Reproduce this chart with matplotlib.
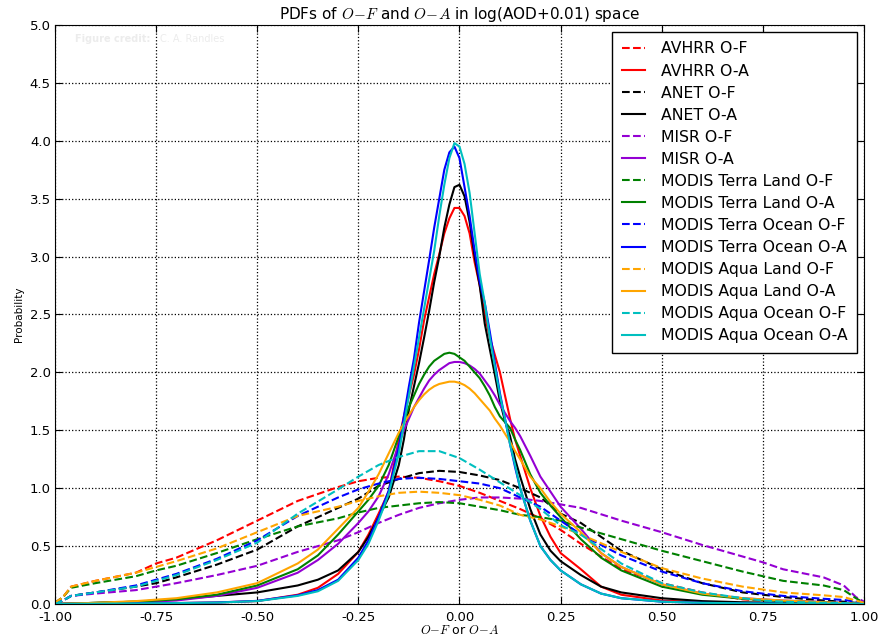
import numpy as np
import matplotlib
matplotlib.use('Agg')
import matplotlib.pyplot as plt

plt.rcParams['mathtext.fontset'] = 'cm'

# x positions for the O-F (broad) curves
x_of = [-1.0, -0.98, -0.96, -0.9, -0.8, -0.75, -0.7, -0.6, -0.5, -0.4, -0.3, -0.25,
        -0.2, -0.15, -0.1, -0.05, 0.0, 0.05, 0.1, 0.15, 0.2, 0.25, 0.3, 0.4, 0.5,
        0.6, 0.7, 0.75, 0.8, 0.9, 0.95, 0.98, 1.0]

avhrr_of = [0.01, 0.06, 0.15, 0.2, 0.27, 0.35, 0.4, 0.55, 0.72, 0.89, 1.01, 1.06,
            1.09, 1.1, 1.09, 1.06, 1.02, 0.96, 0.89, 0.82, 0.74, 0.64, 0.52, 0.3, 0.18,
            0.1, 0.04, 0.03, 0.02, 0.01, 0.008, 0.004, 0.0]
anet_of = [0.0, 0.03, 0.07, 0.1, 0.15, 0.18, 0.23, 0.34, 0.47, 0.67, 0.83, 0.91,
           1.02, 1.08, 1.13, 1.15, 1.14, 1.11, 1.07, 1.0, 0.92, 0.78, 0.7, 0.46, 0.3,
           0.18, 0.1, 0.08, 0.06, 0.03, 0.02, 0.01, 0.0]
misr_of = [0.0, 0.03, 0.07, 0.09, 0.12, 0.15, 0.18, 0.25, 0.33, 0.45, 0.55, 0.62,
           0.7, 0.77, 0.83, 0.87, 0.9, 0.92, 0.92, 0.91, 0.89, 0.86, 0.83, 0.72, 0.62,
           0.51, 0.41, 0.36, 0.3, 0.23, 0.16, 0.06, 0.02]
terra_land_of = [0.01, 0.06, 0.14, 0.18, 0.24, 0.29, 0.33, 0.44, 0.56, 0.67, 0.74, 0.79,
                 0.83, 0.85, 0.87, 0.88, 0.87, 0.84, 0.81, 0.77, 0.75, 0.72, 0.66, 0.56, 0.46,
                 0.37, 0.28, 0.24, 0.2, 0.16, 0.12, 0.05, 0.01]
terra_ocean_of = [0.0, 0.03, 0.07, 0.1, 0.16, 0.21, 0.26, 0.39, 0.55, 0.76, 0.92, 0.99,
                  1.04, 1.08, 1.09, 1.08, 1.06, 1.04, 1.0, 0.92, 0.84, 0.72, 0.6, 0.42, 0.28,
                  0.18, 0.11, 0.09, 0.07, 0.045, 0.035, 0.02, 0.005]
aqua_land_of = [0.01, 0.06, 0.15, 0.2, 0.27, 0.32, 0.37, 0.48, 0.62, 0.76, 0.84, 0.89,
                0.93, 0.96, 0.97, 0.96, 0.94, 0.9, 0.85, 0.77, 0.73, 0.67, 0.6, 0.45, 0.31,
                0.22, 0.15, 0.125, 0.1, 0.075, 0.06, 0.03, 0.01]
aqua_ocean_of = [0.0, 0.03, 0.07, 0.1, 0.15, 0.2, 0.25, 0.38, 0.53, 0.78, 0.99, 1.1,
                 1.2, 1.27, 1.32, 1.32, 1.26, 1.16, 1.05, 0.94, 0.82, 0.68, 0.6, 0.35, 0.18,
                 0.1, 0.05, 0.03, 0.02, 0.01, 0.008, 0.004, 0.0]

# x positions for the O-A (peaked) curves
x_oa = [-1.0, -0.9, -0.8, -0.7, -0.6, -0.5, -0.4, -0.35, -0.3, -0.25, -0.225, -0.2,
        -0.175, -0.15, -0.1375, -0.125, -0.1125, -0.1, -0.0875, -0.075, -0.0625, -0.05,
        -0.0375, -0.025, -0.0125, 0.0, 0.0125, 0.025, 0.0375, 0.05, 0.0625, 0.075,
        0.0875, 0.1, 0.1125, 0.125, 0.1375, 0.15, 0.175, 0.2, 0.225, 0.25, 0.3, 0.35,
        0.4, 0.5, 0.6, 0.7, 0.8, 0.9, 1.0]

avhrr_oa = [0.0, 0.003, 0.005, 0.008, 0.013, 0.025, 0.08, 0.14, 0.26, 0.45, 0.6, 0.78,
            0.97, 1.42, 1.62, 1.8, 1.98, 2.2, 2.45, 2.65, 2.85, 3.02,
            3.2, 3.33, 3.42, 3.42, 3.35, 3.2, 2.95, 2.75, 2.5, 2.3,
            2.15, 2.0, 1.8, 1.6, 1.42, 1.28, 1.0, 0.76, 0.58, 0.44, 0.3, 0.15,
            0.08, 0.03, 0.015, 0.008, 0.005, 0.003, 0.0]
anet_oa = [0.0, 0.01, 0.02, 0.04, 0.07, 0.1, 0.16, 0.21, 0.29, 0.45, 0.58, 0.75,
           0.92, 1.2, 1.42, 1.68, 1.88, 2.08, 2.3, 2.53, 2.78, 3.0,
           3.25, 3.45, 3.6, 3.62, 3.52, 3.3, 3.0, 2.75, 2.42, 2.2,
           1.98, 1.75, 1.58, 1.45, 1.25, 1.1, 0.82, 0.6, 0.46, 0.37, 0.25, 0.15,
           0.1, 0.05, 0.025, 0.015, 0.01, 0.006, 0.0]
misr_oa = [0.0, 0.008, 0.015, 0.03, 0.07, 0.14, 0.27, 0.38, 0.52, 0.7, 0.8, 0.93,
           1.12, 1.38, 1.5, 1.6, 1.7, 1.78, 1.86, 1.93, 1.98, 2.02,
           2.05, 2.08, 2.09, 2.09, 2.08, 2.06, 2.03, 1.99, 1.93, 1.87,
           1.8, 1.72, 1.65, 1.58, 1.52, 1.45, 1.28, 1.1, 0.97, 0.84, 0.65, 0.44,
           0.32, 0.17, 0.09, 0.05, 0.03, 0.018, 0.0]
terra_land_oa = [0.0, 0.01, 0.02, 0.04, 0.08, 0.16, 0.3, 0.42, 0.6, 0.8, 0.9, 1.02,
                 1.2, 1.45, 1.58, 1.7, 1.8, 1.9, 1.98, 2.05, 2.1, 2.13,
                 2.16, 2.17, 2.16, 2.13, 2.1, 2.05, 2.0, 1.95, 1.88, 1.8,
                 1.7, 1.62, 1.57, 1.52, 1.42, 1.33, 1.12, 0.96, 0.85, 0.75, 0.56, 0.4,
                 0.29, 0.15, 0.08, 0.045, 0.025, 0.015, 0.0]
terra_ocean_oa = [0.0, 0.003, 0.005, 0.008, 0.013, 0.027, 0.075, 0.12, 0.21, 0.4, 0.55, 0.75,
                  0.98, 1.35, 1.62, 1.88, 2.12, 2.43, 2.7, 2.97, 3.25, 3.5,
                  3.75, 3.9, 3.95, 3.85, 3.6, 3.35, 3.05, 2.78, 2.6, 2.35,
                  2.08, 1.82, 1.6, 1.38, 1.18, 1.0, 0.72, 0.5, 0.38, 0.29, 0.17, 0.09,
                  0.05, 0.02, 0.01, 0.006, 0.004, 0.003, 0.0]
aqua_land_oa = [0.0, 0.01, 0.025, 0.05, 0.1, 0.18, 0.35, 0.47, 0.65, 0.83, 0.97, 1.12,
                1.3, 1.48, 1.56, 1.63, 1.7, 1.76, 1.81, 1.85, 1.88, 1.9,
                1.91, 1.92, 1.92, 1.91, 1.89, 1.86, 1.82, 1.77, 1.72, 1.67,
                1.6, 1.54, 1.47, 1.4, 1.32, 1.25, 1.1, 1.0, 0.88, 0.78, 0.62, 0.44,
                0.32, 0.17, 0.09, 0.05, 0.03, 0.015, 0.0]
aqua_ocean_oa = [0.0, 0.003, 0.005, 0.008, 0.012, 0.025, 0.07, 0.11, 0.2, 0.38, 0.52, 0.72,
                 0.95, 1.3, 1.55, 1.8, 2.05, 2.3, 2.55, 2.8, 3.05, 3.35,
                 3.62, 3.85, 3.98, 3.95, 3.8, 3.55, 3.2, 2.85, 2.6, 2.3,
                 2.05, 1.8, 1.6, 1.38, 1.2, 1.0, 0.72, 0.5, 0.38, 0.29, 0.17, 0.09,
                 0.05, 0.02, 0.01, 0.006, 0.004, 0.003, 0.0]

names = ['AVHRR', 'ANET', 'MISR', 'MODIS Terra Land', 'MODIS Terra Ocean',
         'MODIS Aqua Land', 'MODIS Aqua Ocean']
colors = ['r', 'k', 'darkviolet', 'g', 'b', 'orange', 'c']
of_curves = [avhrr_of, anet_of, misr_of, terra_land_of, terra_ocean_of, aqua_land_of, aqua_ocean_of]
oa_curves = [avhrr_oa, anet_oa, misr_oa, terra_land_oa, terra_ocean_oa, aqua_land_oa, aqua_ocean_oa]

fig = plt.figure(figsize=(8.81, 6.37), dpi=100)
ax = fig.add_axes([0.0624, 0.0518, 0.9183, 0.909])

for name, col, yf, ya in zip(names, colors, of_curves, oa_curves):
    ax.plot(x_of, yf, '--', color=col, lw=1.5, label=name + ' O-F')
    ax.plot(x_oa, ya, '-', color=col, lw=1.5, label=name + ' O-A')

ax.set_xlim(-1, 1)
ax.set_ylim(0, 5)
ax.set_xticks(np.arange(-1, 1.01, 0.25))
ax.set_yticks(np.arange(0, 5.01, 0.5))
ax.xaxis.set_major_formatter(matplotlib.ticker.FormatStrFormatter('%.2f'))
ax.yaxis.set_major_formatter(matplotlib.ticker.FormatStrFormatter('%.1f'))
ax.tick_params(direction='in', top=True, right=True, labelsize=9.5, length=5)
ax.tick_params(axis='x', pad=5)
ax.tick_params(axis='y', pad=3)
ax.grid(True, linestyle=':', color='k', linewidth=0.9)

ax.set_title('PDFs of $O\\!-\\!F$ and $O\\!-\\!A$ in log(AOD+0.01) space', fontsize=11, pad=4)
ax.set_xlabel('$O\\!-\\!F$ or $O\\!-\\!A$', fontsize=9, labelpad=0)
ax.set_ylabel('Probability', fontsize=7.5, labelpad=4)

# faint credit watermark
ax.text(0.025, 0.985, 'Figure credit:', transform=ax.transAxes, fontsize=7,
        fontweight='bold', color='#ececec', va='top')
ax.text(0.13, 0.985, 'C. A. Randles', transform=ax.transAxes, fontsize=7,
        color='#ececec', va='top')

leg = ax.legend(loc='upper right', fontsize=11.3, handlelength=1.5, handletextpad=1.0,
                labelspacing=0.45, borderpad=0.6, borderaxespad=0.45, fancybox=False,
                framealpha=1)
leg.get_frame().set_edgecolor('k')
leg.get_frame().set_linewidth(1.0)

fig.savefig('out.png', dpi=100)
